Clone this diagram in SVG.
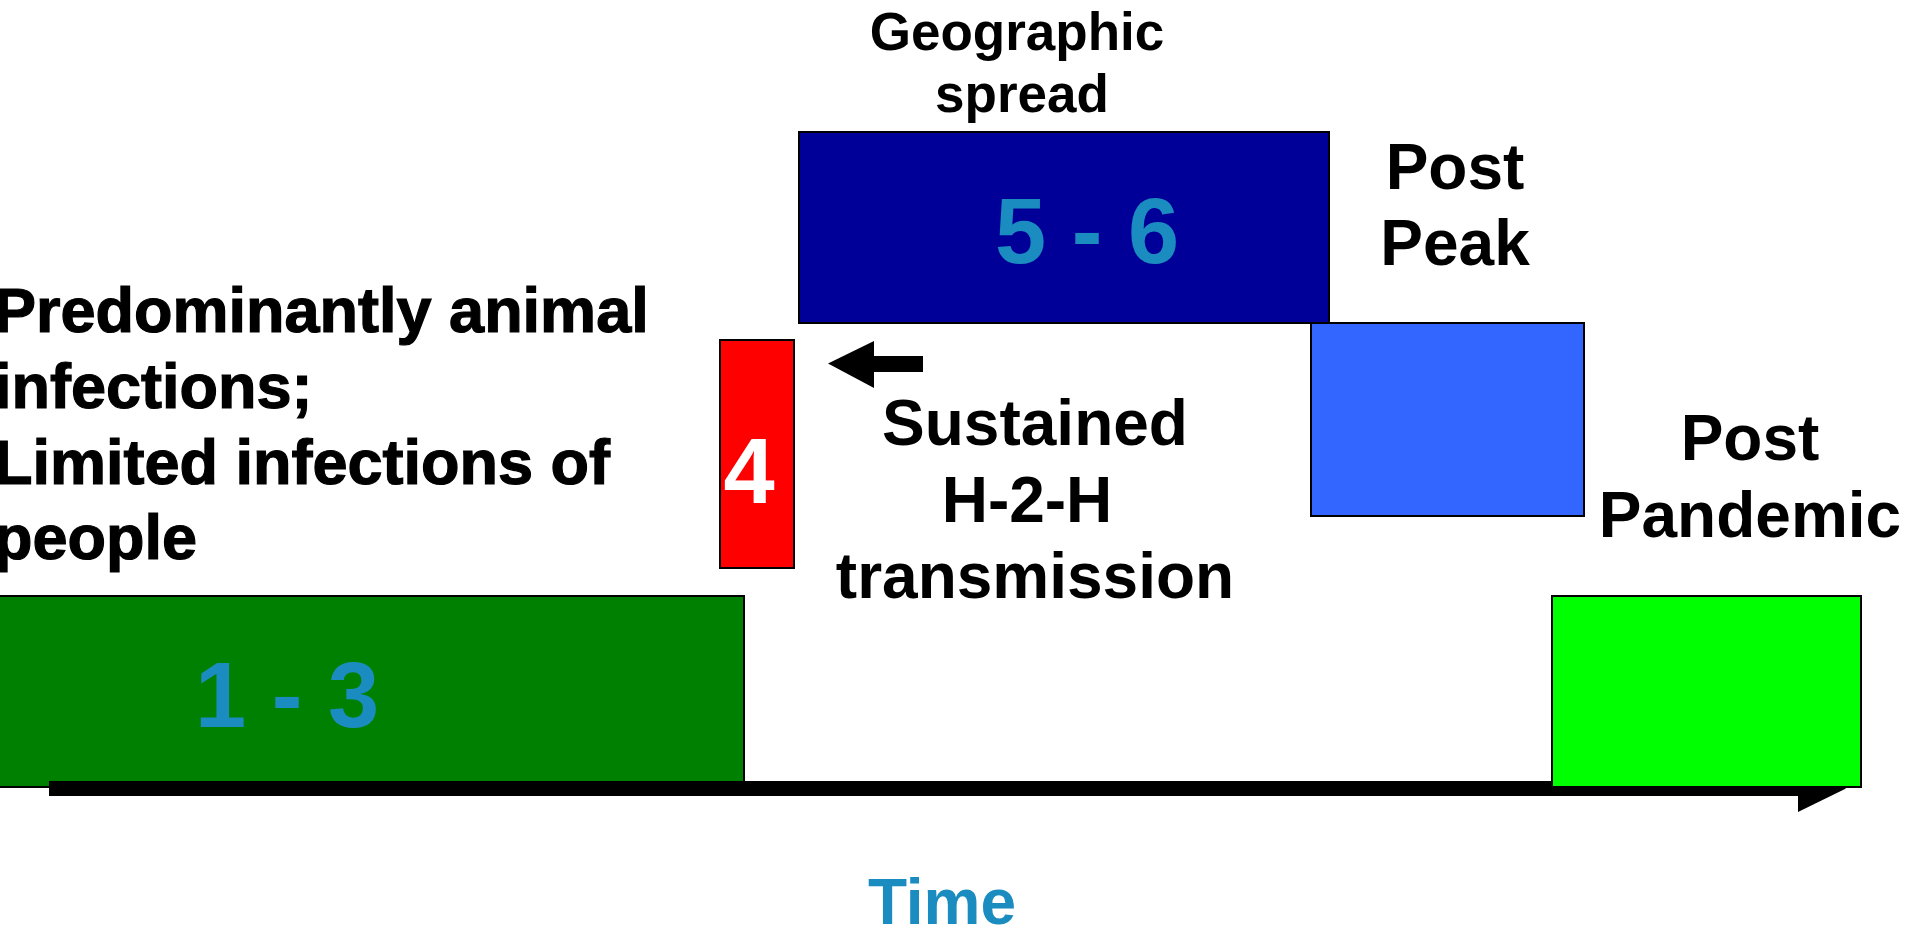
<svg xmlns="http://www.w3.org/2000/svg" width="1909" height="926" viewBox="0 0 1909 926">
  <style>
    text { font-family: "Liberation Sans", Arial, sans-serif; font-weight: bold; }
    .box { stroke: #000; stroke-width: 2; }
    .lbl { fill: #000; font-size: 64px; text-anchor: middle; }
    .num { fill: #1B8CBF; font-size: 92px; text-anchor: middle; }
    .side { fill: #000; font-size: 63px; stroke: #000; stroke-width: 1.2px; }
  </style>
  <rect width="1909" height="926" fill="#fff"/>

  <!-- phases 1-3 -->
  <g id="phase-1-3">
    <rect class="box" x="-1" y="596" width="745" height="191" fill="#008000"/>
    <text class="num" x="287" y="727">1 - 3</text>
  </g>

  <!-- time axis and the pointer towards phase 4 -->
  <g id="connectors">
    <rect x="49" y="781" width="1750" height="15" fill="#000"/>
    <polygon points="1798,765 1846,788.5 1798,812" fill="#000"/>
    <polygon points="923,356 874,356 874,341 828,363.5 874,388 874,372 923,372" fill="#000"/>
  </g>

  <!-- post pandemic period -->
  <g id="post-pandemic-box">
    <rect class="box" x="1552" y="596" width="309" height="191" fill="#00FF00"/>
  </g>

  <g id="phase-4">
    <rect class="box" x="720" y="340" width="74" height="228" fill="#FF0000"/>
    <text x="749" y="503" font-size="92" fill="#fff" text-anchor="middle">4</text>
  </g>

  <g id="phase-5-6">
    <rect class="box" x="799" y="132" width="530" height="191" fill="#000099"/>
    <text class="num" x="1087" y="263">5 - 6</text>
  </g>

  <g id="post-peak-box">
    <rect class="box" x="1311" y="323" width="273" height="193" fill="#3366FF"/>
  </g>

  <g id="label-animal">
    <text class="side" x="-6" y="332">Predominantly animal</text>
    <text class="side" x="-6" y="408">infections;</text>
    <text class="side" x="-6" y="484">Limited infections of</text>
    <text class="side" x="-6" y="559">people</text>
  </g>

  <g id="label-h2h">
    <text class="lbl" x="1035" y="445">Sustained</text>
    <text class="lbl" x="1027" y="522">H-2-H</text>
    <text class="lbl" x="1035" y="598">transmission</text>
  </g>

  <g id="label-geo">
    <text x="1017" y="50" font-size="53" fill="#000" text-anchor="middle">Geographic</text>
    <text x="1022" y="112" font-size="53" fill="#000" text-anchor="middle">spread</text>
  </g>

  <g id="label-post-peak">
    <text class="lbl" x="1455" y="189">Post</text>
    <text class="lbl" x="1455" y="265">Peak</text>
  </g>

  <g id="label-post-pandemic">
    <text class="lbl" x="1750" y="460">Post</text>
    <text class="lbl" x="1750" y="537">Pandemic</text>
  </g>

  <g id="label-time">
    <text x="942" y="924" font-size="64" fill="#1B8CBF" text-anchor="middle">Time</text>
  </g>
</svg>
